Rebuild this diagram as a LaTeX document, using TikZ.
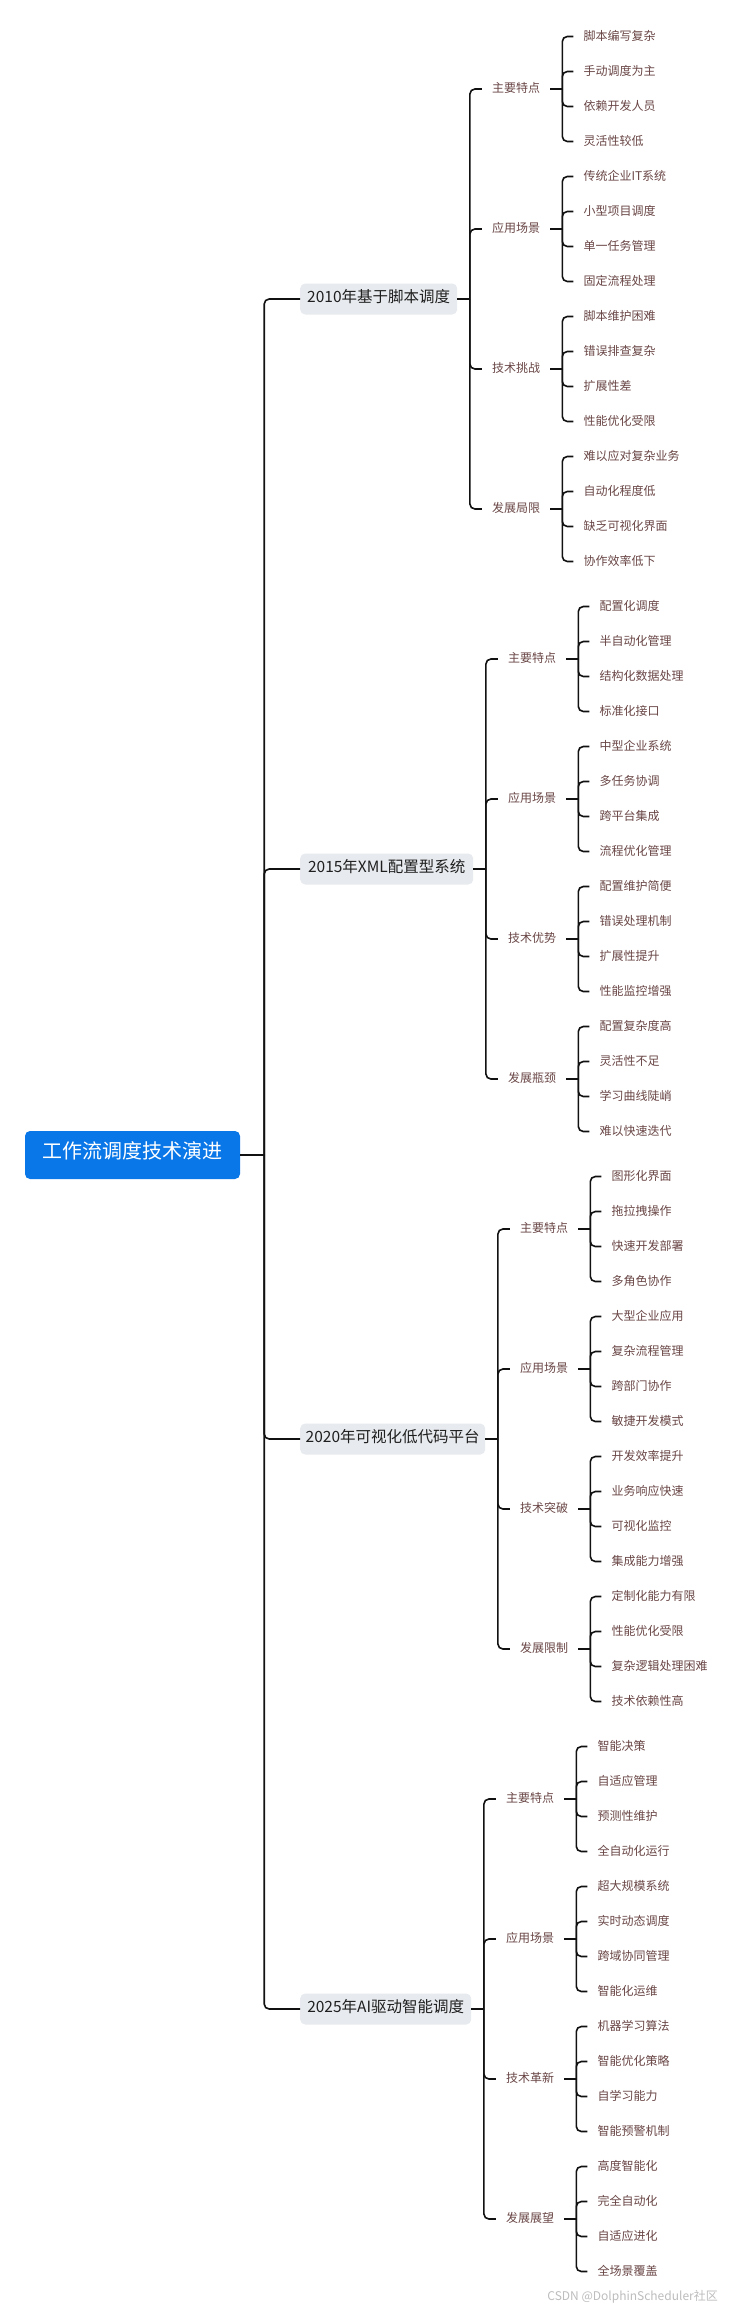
\documentclass[tikz,border=0pt]{standalone}
\usepackage{fontspec}
\setmainfont{Noto Sans CJK SC}
\usetikzlibrary{calc}
\definecolor{rootblue}{HTML}{0A77E8}
\definecolor{boxgrey}{HTML}{E7EAEE}
\definecolor{leafbrown}{HTML}{6A4646}
\definecolor{linecol}{HTML}{111111}
\definecolor{wmgrey}{HTML}{BDBDBD}
\tikzset{
  conn/.style={draw=linecol, line width=1.6pt, rounded corners=5pt},
  rootbox/.style={fill=rootblue, text=white, rounded corners=5pt, minimum width=215pt, minimum height=48pt, inner sep=0pt, font=\fontsize{20}{24}\selectfont, text height=0.86em, text depth=0.12em},
  lvone/.style={fill=boxgrey, text=black!88, rounded corners=5pt, minimum height=31pt, inner sep=0pt, font=\fontsize{15.5}{18}\selectfont, text height=0.86em, text depth=0.12em, anchor=west},
  lvtwo/.style={text=leafbrown, inner xsep=10pt, inner ysep=2pt, font=\fontsize{12}{14}\selectfont, text height=0.86em, text depth=0.12em, anchor=west},
  lvthree/.style={text=leafbrown, inner xsep=10pt, inner ysep=2pt, font=\fontsize{12}{14}\selectfont, text height=0.86em, text depth=0.12em, anchor=west},
  wmark/.style={text=wmgrey, font=\fontsize{12}{14}\selectfont, inner sep=0pt}
}
\newcommand\branch[7]{%
  \pgfmathsetmacro\dy{-210+140*(#2-1)}
  \node[lvtwo] (g#1s#2) at ([shift={(12,\dy)}]g#1v) {#3};
  \draw[conn] (g#1s#2.east) -- ++(12,0) coordinate (g#1s#2v);
  \foreach \itm [count=\k] in {#4,#5,#6,#7} {
    \pgfmathsetmacro\ey{-52.5+35*(\k-1)}
    \node[lvthree] (g#1s#2i\k) at ([shift={(11,\ey)}]g#1s#2v) {\itm};
    \draw[conn] (g#1s#2v) |- (g#1s#2i\k.west);
  }
  \draw[conn] (g#1v) |- (g#1s#2.west);
}
\begin{document}
\begin{tikzpicture}[x=1pt, y=-1pt]
\fill[white] (0,0) rectangle (742,2310);
\useasboundingbox (0,0) rectangle (742,2310);

\node[rootbox] (root) at (132.5,1155) {工作流调度技术演进};
\draw[conn] (root.east) -- ++(24,0) coordinate (trunk);

\foreach \g/\title/\w/\yc in {1/{2010年基于脚本调度}/157/299, 2/{2015年XML配置型系统}/173/869, 3/{2020年可视化低代码平台}/185/1439, 4/{2025年AI驱动智能调度}/171/2009} {
  \node[lvone, minimum width=\w pt] (g\g) at (300,\yc) {\title};
  \draw[conn] (trunk) |- (g\g.west);
  \draw[conn] (g\g.east) -- ++(12.5,0) coordinate (g\g v);
}

\branch{1}{1}{主要特点}{脚本编写复杂}{手动调度为主}{依赖开发人员}{灵活性较低}
\branch{1}{2}{应用场景}{传统企业IT系统}{小型项目调度}{单一任务管理}{固定流程处理}
\branch{1}{3}{技术挑战}{脚本维护困难}{错误排查复杂}{扩展性差}{性能优化受限}
\branch{1}{4}{发展局限}{难以应对复杂业务}{自动化程度低}{缺乏可视化界面}{协作效率低下}

\branch{2}{1}{主要特点}{配置化调度}{半自动化管理}{结构化数据处理}{标准化接口}
\branch{2}{2}{应用场景}{中型企业系统}{多任务协调}{跨平台集成}{流程优化管理}
\branch{2}{3}{技术优势}{配置维护简便}{错误处理机制}{扩展性提升}{性能监控增强}
\branch{2}{4}{发展瓶颈}{配置复杂度高}{灵活性不足}{学习曲线陡峭}{难以快速迭代}

\branch{3}{1}{主要特点}{图形化界面}{拖拉拽操作}{快速开发部署}{多角色协作}
\branch{3}{2}{应用场景}{大型企业应用}{复杂流程管理}{跨部门协作}{敏捷开发模式}
\branch{3}{3}{技术突破}{开发效率提升}{业务响应快速}{可视化监控}{集成能力增强}
\branch{3}{4}{发展限制}{定制化能力有限}{性能优化受限}{复杂逻辑处理困难}{技术依赖性高}

\branch{4}{1}{主要特点}{智能决策}{自适应管理}{预测性维护}{全自动化运行}
\branch{4}{2}{应用场景}{超大规模系统}{实时动态调度}{跨域协同管理}{智能化运维}
\branch{4}{3}{技术革新}{机器学习算法}{智能优化策略}{自学习能力}{智能预警机制}
\branch{4}{4}{发展展望}{高度智能化}{完全自动化}{自适应进化}{全场景覆盖}

\node[wmark, anchor=east] (wm) at (718,2297) {CSDN @DolphinScheduler社区};
\end{tikzpicture}
\end{document}
